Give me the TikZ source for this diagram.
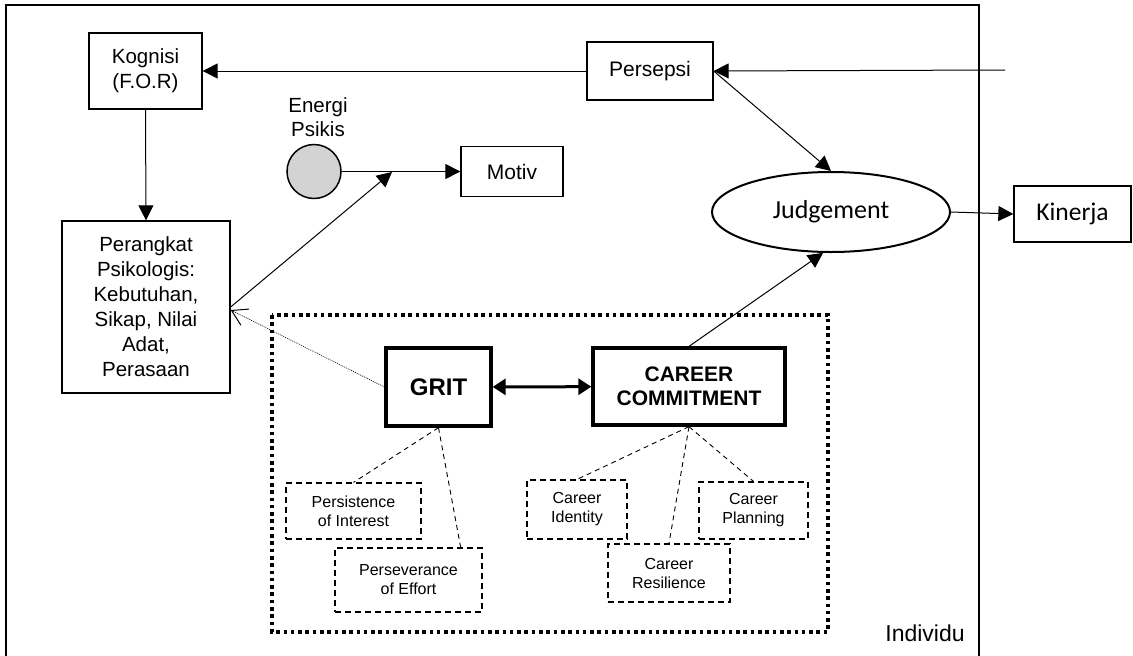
\documentclass[tikz,border=0pt]{standalone}
\usepackage{fontspec}
\setmainfont{Liberation Sans}
\newfontfamily\calib{Carlito}
\usetikzlibrary{arrows.meta,shapes.geometric}

\begin{document}
\begin{tikzpicture}[x=1pt, y=-1pt,
    box/.style={draw, line width=1.3pt, inner sep=0pt, align=center, font=\fontsize{20.5}{25}\selectfont},
    bigbox/.style={draw, line width=3.3pt, inner sep=0pt, align=center},
    subbox/.style={draw, line width=1.2pt, dash pattern=on 6pt off 4pt, inner sep=0pt, align=center, font=\fontsize{16}{19}\selectfont},
    link/.style={line width=1pt, -{Triangle[length=15pt,width=15pt]}},
    sublink/.style={line width=0.9pt, dash pattern=on 5pt off 4pt}]
  \useasboundingbox (0,0) rectangle (1133,656);
  % frame of the individual
  \draw[line width=2pt] (6,660) -- (6,5) -- (979,5) -- (979,660);
  \node (individu) at (925,633) {\fontsize{23}{27}\selectfont Individu};
  \draw[line width=3.5pt, dash pattern=on 3.6pt off 3.7pt] (272,315) rectangle (828,632);

  % upper part
  \node[box, minimum width=113pt, minimum height=76pt] (kognisi) at (145.5,71) {Kognisi\\(F.O.R)};
  \node[box, minimum width=126pt, minimum height=58pt, font=\fontsize{21}{25}\selectfont] (persepsi) at (650,71) {Persepsi};
  \node[box, minimum width=168pt, minimum height=172pt] (perangkat) at (146,307)
    {Perangkat\\Psikologis:\\Kebutuhan,\\Sikap, Nilai\\Adat,\\Perasaan};
  \node[draw, circle, line width=1.5pt, fill={rgb,255:red,211;green,211;blue,211}, minimum size=54pt, inner sep=0pt] (energi) at (314,171.5) {};
  \node[align=center, font=\fontsize{20.5}{24}\selectfont] (energilbl) at (318,117) {Energi\\Psikis};
  \node[box, minimum width=102pt, minimum height=50pt, font=\fontsize{21}{25}\selectfont] (motiv) at (512,171.5) {Motiv};
  \node[draw, ellipse, line width=2pt, minimum width=238pt, minimum height=80pt, inner sep=0pt, font=\calib\fontsize{26}{30}\selectfont] (judgement) at (831,212) {Judgement};
  \node[box, minimum width=117pt, minimum height=56pt, font=\calib\fontsize{25.5}{30}\selectfont] (kinerja) at (1072.5,214) {Kinerja};
  \coordinate (luar) at (1005,70);
  \coordinate (motivline) at (392,172);

  % grit and career commitment
  \node[bigbox, minimum width=105pt, minimum height=78pt, font=\fontsize{24}{28}\bfseries] (grit) at (438.5,387) {GRIT};
  \node[bigbox, minimum width=192pt, minimum height=77pt, font=\fontsize{21}{24}\bfseries] (cc) at (689,386.5) {CAREER\\COMMITMENT};
  \node[subbox, minimum width=135pt, minimum height=56pt] (persist) at (353.5,511) {Persistence\\of Interest};
  \node[subbox, minimum width=147pt, minimum height=64pt] (persev) at (408.5,580) {Perseverance\\of Effort};
  \node[subbox, minimum width=100pt, minimum height=59pt] (ident) at (577,509.5) {Career\\Identity};
  \node[subbox, minimum width=122pt, minimum height=58pt] (resil) at (669,573) {Career\\Resilience};
  \node[subbox, minimum width=109pt, minimum height=57pt] (plan) at (753.5,510.5) {Career\\Planning};

  % connectors
  \draw[link] (persepsi) -- (kognisi);
  \draw[link] (luar) -- (persepsi.east);
  \draw[link] (kognisi.south) -- (perangkat.north);
  \draw[link] (energi.east) -- (motiv.west);
  \draw[link] (perangkat.east) -- (motivline);
  \draw[link] (persepsi.east) -- (judgement.north);
  \draw[link] (cc.north) -- (judgement.-101);
  \draw[link] (judgement.east) -- (kinerja.west);
  \draw[line width=3pt, {Triangle[length=13pt,width=16pt]}-{Triangle[length=13pt,width=16pt]}] (grit) -- (cc);
  \draw[line width=0.6pt, dash pattern=on 1pt off 1pt, -{Straight Barb[length=15pt,width=18pt,line width=1pt]}] (grit.west) -- ([yshift=-3pt]perangkat.east);
  \draw[sublink] (grit.south) -- (persist.north);
  \draw[sublink] (grit.south) -- (persev.32);
  \draw[sublink] (cc.south) -- (ident.north);
  \draw[sublink] (cc.south) -- (resil.north);
  \draw[sublink] (cc.south) -- (plan.north);
\end{tikzpicture}
\end{document}
